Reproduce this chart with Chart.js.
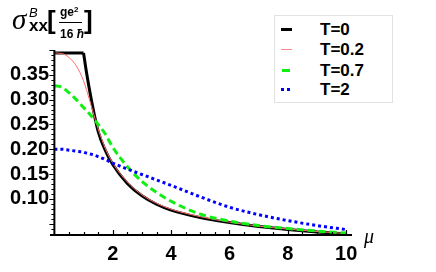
<!DOCTYPE html>
<html>
<head>
<meta charset="utf-8">
<script src="https://cdn.jsdelivr.net/npm/chart.js@4.4.1/dist/chart.umd.min.js"></script>
<style>
  body { margin: 0; background: #fff; }
  #wrap { position: relative; width: 436px; height: 272px; overflow: hidden; font-family: "Liberation Sans", Arial, sans-serif; }
  #c { position: absolute; left: 0; top: 0; }
  .t { position: absolute; line-height: 1; white-space: nowrap; color: #000; }
  .legend { position: absolute; left: 274px; top: 15px; width: 117px; height: 86px; border: 1px solid #e2e2e2; background: #fff; }
  .row { position: absolute; left: 45px; font-weight: bold; font-size: 17px; line-height: 20px; }
  .sym { position: absolute; }
</style>
</head>
<body>
<div id="wrap">
  <canvas id="c" width="436" height="272"></canvas>

  <!-- y axis label: sigma^B_xx [ge^2 / 16 hbar] -->
  <span class="t" style="left:12px;top:3px;font:italic 29px 'Liberation Serif',serif;">σ</span>
  <span class="t" style="left:29px;top:5px;font:italic 13px 'Liberation Sans',sans-serif;">B</span>
  <span class="t" style="left:29px;top:16px;font:bold 17px 'Liberation Sans',sans-serif;">xx</span>
  <span class="t" style="left:47px;top:5px;font:bold 26px 'Liberation Sans',sans-serif;">[</span>
  <span class="t" style="left:60px;top:5px;font:bold 12px 'Liberation Sans',sans-serif;">ge<sup style="font-size:8px;vertical-align:4px;">2</sup></span>
  <div style="position:absolute;left:59px;top:22px;width:23px;height:1px;background:#000;"></div>
  <span class="t" style="left:60px;top:27px;font:bold 12px 'Liberation Sans',sans-serif;">16 <i>ħ</i></span>
  <span class="t" style="left:84px;top:5px;font:bold 26px 'Liberation Sans',sans-serif;">]</span>

  <!-- x axis label -->
  <span class="t" style="left:364px;top:225px;font:italic 20px 'Liberation Serif',serif;">μ</span>

  <div class="legend">
    <div class="sym" style="left:6px;top:12px;width:11px;height:3px;background:#000;"></div>
    <div class="row" style="top:4px;">T=0</div>
    <div class="sym" style="left:6px;top:33px;width:11px;height:1px;background:#f88;"></div>
    <div class="row" style="top:24px;">T=0.2</div>
    <div class="sym" style="left:7px;top:53px;width:8px;height:3px;background:#1e1;"></div>
    <div class="row" style="top:45px;">T=0.7</div>
    <div class="sym" style="left:6px;top:72px;width:3px;height:3px;background:#00f;"></div>
    <div class="sym" style="left:12px;top:72px;width:3px;height:3px;background:#00f;"></div>
    <div class="row" style="top:64px;">T=2</div>
  </div>
</div>

<script>
// chemical potential samples
const mu = [0, 0.25, 0.5, 0.75, 1, 1.1, 1.25, 1.5, 1.75, 2, 2.5, 3, 3.5, 4, 5, 6, 7, 8, 9, 10];

// sigma_xx^B, one array per temperature
const sigmaT0  = [0.394, 0.394, 0.394, 0.394, 0.394, 0.355, 0.305, 0.236, 0.197, 0.169, 0.131, 0.106, 0.089, 0.077, 0.062, 0.052, 0.044, 0.038, 0.033, 0.029];
const sigmaT02 = [0.394, 0.393, 0.385, 0.368, 0.338, 0.320, 0.290, 0.241, 0.201, 0.172, 0.134, 0.108, 0.091, 0.079, 0.064, 0.053, 0.045, 0.039, 0.034, 0.030];
const sigmaT07 = [0.328, 0.325, 0.314, 0.300, 0.284, 0.278, 0.268, 0.250, 0.230, 0.204, 0.165, 0.135, 0.113, 0.095, 0.069, 0.055, 0.046, 0.040, 0.035, 0.031];
const sigmaT2  = [0.200, 0.200, 0.198, 0.196, 0.194, 0.192, 0.190, 0.185, 0.179, 0.172, 0.160, 0.149, 0.138, 0.127, 0.104, 0.083, 0.068, 0.056, 0.046, 0.038];

const xTicks = [2, 4, 6, 8, 10];
const yTicks = [0.10, 0.15, 0.20, 0.25, 0.30, 0.35];

const pts = (vals, keep) => mu.map((m, i) => ({ x: m, y: vals[i] })).filter(p => keep(p.x));

// Mathematica-like axes: lines through the origin with small ticks
const axesPlugin = {
  id: "axes",
  afterDraw(chart) {
    const { ctx, chartArea: a, scales: { x, y } } = chart;
    const x0 = x.getPixelForValue(0);
    ctx.save();
    ctx.strokeStyle = "#000";
    ctx.lineWidth = 2;
    ctx.beginPath();
    ctx.moveTo(a.left, a.bottom); ctx.lineTo(a.right, a.bottom);
    ctx.moveTo(x0, a.bottom); ctx.lineTo(x0, a.top);
    ctx.stroke();

    ctx.lineWidth = 1.2;
    ctx.beginPath();
    for (let k = 1; k <= 20; k++) {
      const px = Math.round(x.getPixelForValue(k * 0.5)) + 0.5;
      const len = k % 4 === 0 ? 5 : 3;
      ctx.moveTo(px, a.bottom); ctx.lineTo(px, a.bottom - len);
    }
    for (let k = 3; k <= 40; k++) {
      const py = Math.round(y.getPixelForValue(k / 100)) + 0.5;
      const len = k % 5 === 0 ? 5 : 3;
      ctx.moveTo(x0, py); ctx.lineTo(x0 - len, py);
    }
    ctx.stroke();
    ctx.restore();
  }
};

const tickFont = { family: "'Liberation Sans', Arial, sans-serif", size: 20, weight: "bold" };

new Chart(document.getElementById("c"), {
  type: "line",
  data: {
    datasets: [
      { data: pts(sigmaT2, m => true), borderColor: "#0000ff", borderWidth: 3, borderDash: [3, 3], order: 0 },
      { data: pts(sigmaT07, m => true), borderColor: "#11ee11", borderWidth: 3, borderDash: [7, 4], order: 1 },
      { data: pts(sigmaT02, m => true), borderColor: "#ff7070", borderWidth: 1, order: 2 },
      { data: pts(sigmaT0, m => m >= 1), borderColor: "#000", borderWidth: 3, order: 3 },
      { data: pts(sigmaT0, m => m <= 1), borderColor: "#000", borderWidth: 3, order: 3, cubicInterpolationMode: "default", tension: 0 }
    ]
  },
  options: {
    responsive: false,
    animation: false,
    layout: { padding: { left: 0, top: 50, right: 84, bottom: 0 } },
    elements: {
      point: { radius: 0 },
      line: { cubicInterpolationMode: "monotone", fill: false, borderCapStyle: "butt" }
    },
    plugins: { legend: { display: false }, tooltip: { enabled: false } },
    scales: {
      x: {
        type: "linear",
        min: -0.15,
        max: 10.2,
        afterFit: s => { s.height = 37; },
        afterBuildTicks: s => { s.ticks = xTicks.map(v => ({ value: v })); },
        grid: { display: false, drawTicks: false },
        border: { display: false },
        ticks: { font: tickFont, color: "#000", padding: 7, maxRotation: 0, callback: v => String(v) }
      },
      y: {
        type: "linear",
        min: 0.027,
        max: 0.40,
        afterFit: s => { s.width = 50; },
        afterBuildTicks: s => { s.ticks = yTicks.map(v => ({ value: v })); },
        grid: { display: false, drawTicks: false },
        border: { display: false },
        ticks: { font: tickFont, color: "#000", padding: 1, callback: v => v.toFixed(2) }
      }
    }
  },
  plugins: [axesPlugin]
});
</script>
</body>
</html>
